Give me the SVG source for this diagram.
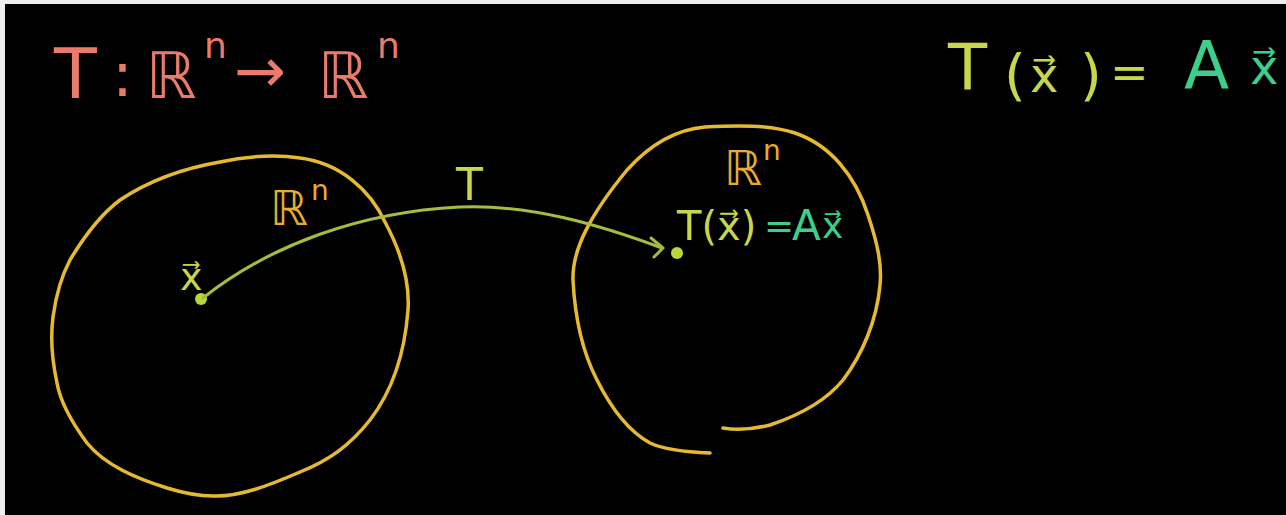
<svg xmlns="http://www.w3.org/2000/svg" width="1286" height="515" viewBox="0 0 1286 515">
<style>
.t{font-family:"DejaVu Sans","Liberation Sans",sans-serif;}
.red{fill:#ea7a6c}
.yg{fill:#c8d64a}
.tl{fill:#3ccf8c}
.gold{fill:#e6ad30}
.circ{fill:none;stroke:#e6ba30;stroke-width:3.5;stroke-linecap:round;stroke-linejoin:round}
.conn{fill:none;stroke:#a3be3c;stroke-width:3;stroke-linecap:round;stroke-linejoin:round}
.dot{fill:#b8d636}
</style>
<rect x="0" y="0" width="1286" height="515" fill="#eeeeee"/>
<rect x="5" y="4" width="1281" height="511" fill="#000000"/>

<g id="title-left" class="t red">
<text x="54" y="98" font-size="70">T</text>
<text x="112" y="96" font-size="62">:</text>
<text x="146" y="98" font-size="64">ℝ</text>
<text x="204" y="58" font-size="36">n</text>
<text x="234" y="92" font-size="62">→</text>
<text x="318" y="98" font-size="64">ℝ</text>
<text x="377" y="58" font-size="36">n</text>
</g>

<g id="title-right" class="t">
<text x="948" y="90" font-size="64" class="yg">T</text>
<text x="1004" y="94" font-size="56" class="yg">(</text>
<text x="1030" y="92" font-size="48" class="yg">x⃗</text>
<text x="1080" y="94" font-size="56" class="yg">)</text>
<text x="1110" y="88" font-size="46" class="yg">=</text>
<text x="1184" y="88" font-size="66" class="tl">A</text>
<text x="1250" y="84" font-size="48" class="tl">x⃗</text>
</g>

<g id="domain">
<path class="circ" d="M 220,162 C 250,155 280,155 300,158 C 340,163 370,190 385,222 C 400,250 410,280 408,310 C 405,350 393,390 370,420 C 350,445 330,460 300,472 C 270,485 240,497 213,496 C 195,496 180,492 167,488 C 135,478 105,465 87,443 C 70,420 60,400 57,383 C 52,360 50,340 53,317 C 56,295 62,275 70,260 C 85,235 100,215 120,200 C 150,180 185,168 220,162 Z"/>
<text class="t gold" x="270" y="225" font-size="48">ℝ</text>
<text class="t gold" x="311" y="200" font-size="28">n</text>
</g>

<g id="point-x">
<circle class="dot" cx="201" cy="299" r="6"/>
<text class="t yg" x="180" y="290" font-size="38">x⃗</text>
</g>

<g id="codomain">
<path class="circ" d="M 710,453 C 685,452 665,450 650,443 C 630,432 612,410 597,380 C 584,355 575,320 573,280 C 572,250 590,215 627,170 C 645,150 670,130 705,127 C 740,125 770,125 795,133 C 830,145 855,175 868,215 C 878,245 882,265 880,285 C 877,320 862,355 843,380 C 825,402 800,415 770,425 C 750,430 735,430 723,428"/>
<text class="t gold" x="724" y="185" font-size="48">ℝ</text>
<text class="t gold" x="763" y="160" font-size="28">n</text>
</g>

<g id="point-tx">
<circle class="dot" cx="677" cy="253" r="6"/>
<text class="t yg" x="677" y="240" font-size="40">T(x⃗)</text>
<text class="t tl" x="764" y="238" font-size="36">=</text>
<text class="t tl" x="792" y="240" font-size="42">A</text>
<text class="t tl" x="822" y="238" font-size="36">x⃗</text>
</g>

<g id="connectors">
<path class="conn" d="M 203,298 C 270,245 360,212 460,207 C 530,204 600,225 662,248"/>
<path class="conn" d="M 651,238 L 663,248 L 654,257"/>
<text class="t yg" x="456" y="200" font-size="44">T</text>
</g>
</svg>
